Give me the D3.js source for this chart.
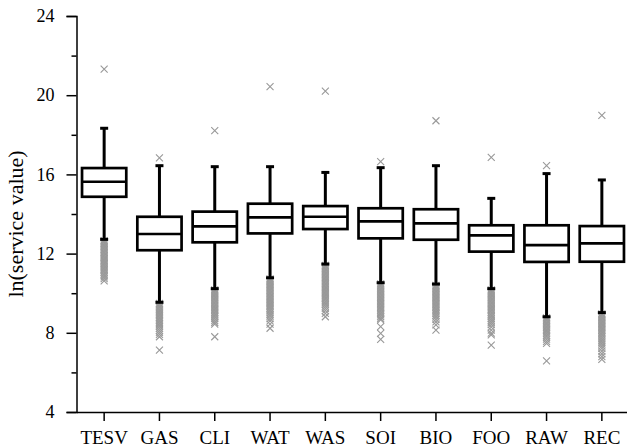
<!DOCTYPE html>
<html>
<head>
<meta charset="utf-8">
<script src="https://cdn.jsdelivr.net/npm/d3@7"></script>
<style>
  body { margin: 0; background: #fff; }
  svg { display: block; }
</style>
</head>
<body>
<svg id="chart" width="627" height="448"></svg>
<script>
const categories = ["TESV", "GAS", "CLI", "WAT", "WAS", "SOI", "BIO", "FOO", "RAW", "REC"];
const q1 = [14.87, 12.17, 12.57, 13.02, 13.24, 12.77, 12.70, 12.10, 11.58, 11.59];
const median = [15.63, 12.99, 13.38, 13.83, 13.86, 13.63, 13.53, 12.92, 12.43, 12.52];
const q3 = [16.32, 13.86, 14.12, 14.52, 14.40, 14.29, 14.24, 13.43, 13.43, 13.39];
const whiskerLow = [12.72, 9.54, 10.23, 10.78, 11.47, 10.53, 10.46, 10.23, 8.81, 9.02];
const whiskerHigh = [18.33, 16.44, 16.39, 16.39, 16.10, 16.34, 16.44, 14.79, 16.04, 15.72];
const outliers = [
  [21.32, 12.66, 12.58, 12.51, 12.43, 12.36, 12.30, 12.22, 12.15, 12.08, 12.02, 11.94, 11.88, 11.81, 11.74, 11.67, 11.62, 11.54, 11.49, 11.42, 11.35, 11.28, 11.21, 11.14, 11.06, 10.98, 10.90, 10.82, 10.74, 10.62],
  [16.84, 9.48, 9.41, 9.34, 9.27, 9.20, 9.13, 9.06, 8.99, 8.92, 8.85, 8.78, 8.70, 8.63, 8.55, 8.47, 8.39, 8.31, 8.22, 8.12, 8.02, 7.92, 7.80, 7.13],
  [18.21, 10.17, 10.10, 10.03, 9.96, 9.89, 9.82, 9.75, 9.68, 9.61, 9.54, 9.47, 9.40, 9.33, 9.26, 9.19, 9.12, 9.04, 8.97, 8.89, 8.81, 8.72, 8.62, 8.52, 8.44, 7.80],
  [20.43, 10.72, 10.65, 10.58, 10.51, 10.44, 10.37, 10.30, 10.23, 10.16, 10.09, 10.02, 9.95, 9.88, 9.81, 9.74, 9.67, 9.60, 9.53, 9.46, 9.39, 9.32, 9.25, 9.17, 9.09, 9.01, 8.92, 8.83, 8.72, 8.60, 8.44, 8.23],
  [20.21, 11.41, 11.34, 11.27, 11.20, 11.13, 11.06, 10.99, 10.92, 10.85, 10.78, 10.71, 10.64, 10.57, 10.50, 10.43, 10.36, 10.29, 10.22, 10.15, 10.08, 10.01, 9.94, 9.87, 9.80, 9.73, 9.66, 9.58, 9.50, 9.42, 9.33, 9.23, 9.12, 8.98, 8.81],
  [16.64, 10.47, 10.40, 10.33, 10.26, 10.19, 10.12, 10.05, 9.98, 9.91, 9.84, 9.77, 9.70, 9.63, 9.56, 9.49, 9.42, 9.35, 9.28, 9.21, 9.14, 9.06, 8.98, 8.90, 8.81, 8.72, 8.65, 8.31, 7.97, 7.67],
  [18.71, 10.40, 10.33, 10.26, 10.19, 10.12, 10.05, 9.98, 9.91, 9.84, 9.77, 9.70, 9.63, 9.56, 9.49, 9.42, 9.35, 9.28, 9.21, 9.13, 9.05, 8.97, 8.88, 8.79, 8.68, 8.55, 8.40, 8.14],
  [16.86, 10.17, 10.10, 10.03, 9.96, 9.89, 9.82, 9.75, 9.68, 9.61, 9.54, 9.47, 9.40, 9.33, 9.26, 9.19, 9.12, 9.04, 8.96, 8.88, 8.80, 8.71, 8.62, 8.52, 8.41, 8.29, 8.14, 7.98, 7.89, 7.38],
  [16.44, 8.75, 8.68, 8.61, 8.54, 8.47, 8.40, 8.33, 8.26, 8.19, 8.12, 8.05, 7.97, 7.88, 7.79, 7.68, 7.57, 7.47, 6.58],
  [18.98, 8.96, 8.89, 8.82, 8.75, 8.68, 8.61, 8.54, 8.47, 8.40, 8.33, 8.26, 8.19, 8.12, 8.05, 7.97, 7.89, 7.81, 7.72, 7.63, 7.54, 7.44, 7.33, 7.21, 7.08, 6.94, 6.80, 6.66]
];
const majorTicks = [4, 8, 12, 16, 20, 24];
const minorTicks = [6, 10, 14, 18, 22];

const FONT = 'Liberation Serif';

function drawChart() {
  const svg = d3.select('#chart');

  const x = d3.scaleBand()
    .domain(categories)
    .range([76.5, 629.5]);

  const y = d3.scaleLinear()
    .domain([4, 24])
    .range([412, 16]);

  const boxW = x.bandwidth() * 0.8;
  const capW = 8;

  let rows = categories.map((c, i) => ({
    cat: c,
    q1: q1[i], med: median[i], q3: q3[i],
    lo: whiskerLow[i], hi: whiskerHigh[i],
    out: outliers[i]
  }));

  // outliers first so the whiskers sit on top
  const marks = svg.append('g')
    .attr('stroke', '#999')
    .attr('stroke-width', 1.1)
    .attr('fill', 'none');

  rows.forEach((r) => {
    let cx = x(r.cat) + x.bandwidth() / 2;
    marks.selectAll(null)
      .data(r.out)
      .enter()
      .append('path')
      .attr('d', (v) => {
        let cy = y(v);
        return `M${cx - 3.5},${cy - 3.5}L${cx + 3.5},${cy + 3.5}M${cx - 3.5},${cy + 3.5}L${cx + 3.5},${cy - 3.5}`;
      });
  });

  const boxes = svg.selectAll('.box')
    .data(rows)
    .enter()
    .append('g')
    .attr('class', 'box')
    .attr('transform', (d) => `translate(${x(d.cat) + x.bandwidth() / 2},0)`)
    .attr('stroke', '#000')
    .attr('fill', 'none');

  // whiskers
  boxes.append('line')
    .attr('x1', 0).attr('x2', 0)
    .attr('y1', (d) => y(d.hi))
    .attr('y2', (d) => y(d.q3))
    .attr('stroke-width', 3);

  boxes.append('line')
    .attr('x1', 0).attr('x2', 0)
    .attr('y1', (d) => y(d.q1))
    .attr('y2', (d) => y(d.lo))
    .attr('stroke-width', 3);

  // caps
  boxes.append('line')
    .attr('x1', -capW / 2).attr('x2', capW / 2)
    .attr('y1', (d) => y(d.hi)).attr('y2', (d) => y(d.hi))
    .attr('stroke-width', 3);

  boxes.append('line')
    .attr('x1', -capW / 2).attr('x2', capW / 2)
    .attr('y1', (d) => y(d.lo)).attr('y2', (d) => y(d.lo))
    .attr('stroke-width', 3);

  boxes.append('rect')
    .attr('x', -boxW / 2)
    .attr('width', boxW)
    .attr('y', (d) => y(d.q3))
    .attr('height', (d) => y(d.q1) - y(d.q3))
    .attr('fill', '#fff')
    .attr('stroke-width', 2.7);

  boxes.append('line')
    .attr('x1', -boxW / 2).attr('x2', boxW / 2)
    .attr('y1', (d) => y(d.med)).attr('y2', (d) => y(d.med))
    .attr('stroke-width', 2.7);

  // axes
  const yAxis = svg.append('g')
    .attr('transform', 'translate(76.5,0)')
    .call(d3.axisLeft(y).tickValues(majorTicks).tickSize(10).tickPadding(12).tickFormat(d3.format('d')));

  svg.append('g')
    .attr('transform', 'translate(76.5,0)')
    .call(d3.axisLeft(y).tickValues(minorTicks).tickSize(5).tickFormat(''))
    .call((g) => g.select('.domain').remove());

  const xAxis = svg.append('g')
    .attr('transform', 'translate(0,412)')
    .call(d3.axisBottom(x).tickSize(9).tickSizeOuter(0).tickPadding(10));

  svg.selectAll('.tick line, .domain')
    .attr('stroke', '#000')
    .attr('stroke-width', 1.5);

  yAxis.attr('font-family', FONT).attr('font-size', 18);
  yAxis.selectAll('text').attr('fill', '#000');

  xAxis.attr('font-family', FONT).attr('font-size', 19);
  xAxis.selectAll('text').attr('fill', '#000');

  svg.append('text')
    .attr('transform', 'translate(23,224) rotate(-90)')
    .attr('text-anchor', 'middle')
    .attr('font-family', FONT)
    .attr('font-size', 22)
    .attr('fill', '#000')
    .text('ln(service value)');
}

drawChart();
</script>
</body>
</html>
